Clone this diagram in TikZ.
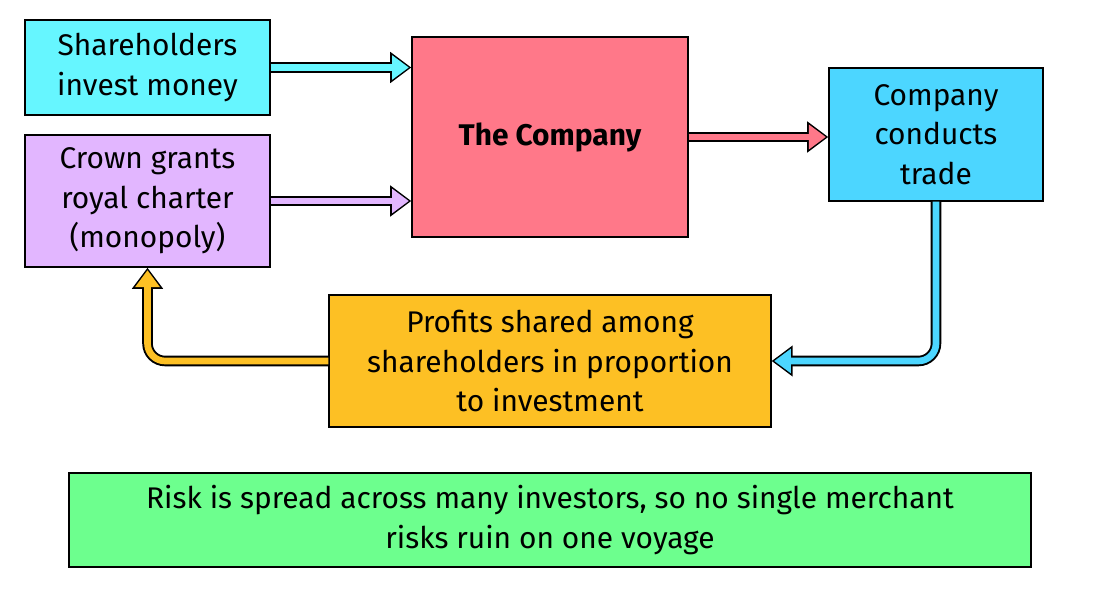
\documentclass[tikz,border=0pt]{standalone}
\usepackage{fontspec}
\setmainfont{Fira Sans}
\usetikzlibrary{arrows.meta,calc}
\definecolor{cshare}{HTML}{66F6FF}
\definecolor{ccrown}{HTML}{E2B6FF}
\definecolor{ccomp}{HTML}{FF7889}
\definecolor{ctrade}{HTML}{4CD6FF}
\definecolor{cprofit}{HTML}{FDC024}
\definecolor{crisk}{HTML}{6DFF8E}
\tikzset{
  box/.style={draw=black,line width=0.8pt,align=center,inner sep=0pt,
    font=\fontsize{17}{22.5}\selectfont},
  fatback/.style={line width=6pt,black,rounded corners=10pt,
    -{Triangle[length=12pt,width=17pt]}},
  fatfront/.style={line width=3.8pt,#1,rounded corners=10pt,
    -{Triangle[length=9.6pt,width=13.4pt]},shorten >=1.4pt},
}
\newcommand{\fatarrow}[2]{%
  \draw[fatback] #2;
  \draw[fatfront=#1] #2;}
\begin{document}
\begin{tikzpicture}[x=0.02cm,y=-0.02cm]
  \useasboundingbox (0,0) rectangle (1100,608);
  \node[box,fill=cshare,minimum width=245\pgflinewidth*0+4.9cm,minimum height=1.9cm]
    (share) at (147.5,67.5) {Shareholders\\invest money};
  \node[box,fill=ccrown,minimum width=4.9cm,minimum height=2.64cm]
    (crown) at (147.5,201) {Crown grants\\royal charter\\(monopoly)};
  \node[box,fill=ccomp,minimum width=5.52cm,minimum height=4cm,font=\fontsize{17}{22.5}\selectfont\bfseries]
    (comp) at (550,137) {The Company};
  \node[box,fill=ctrade,minimum width=4.28cm,minimum height=2.66cm]
    (trade) at (936,134.5) {Company\\conducts\\trade};
  \node[box,fill=cprofit,minimum width=8.84cm,minimum height=2.64cm]
    (profit) at (550,361) {Profits shared among\\shareholders in proportion\\to investment};
  \node[box,fill=crisk,minimum width=19.24cm,minimum height=1.88cm]
    (risk) at (550,520) {Risk is spread across many investors, so no single merchant\\risks ruin on one voyage};
  % connectors
  \fatarrow{cshare}{(share.east) -- (comp.west |- share.east)}
  \fatarrow{ccrown}{(crown.east) -- (comp.west |- crown.east)}
  \fatarrow{ccomp}{(comp.east) -- (trade.west |- comp.east)}
  \fatarrow{ctrade}{(trade.south) |- (profit.east)}
  \fatarrow{cprofit}{(profit.west) -| (crown.south)}
\end{tikzpicture}
\end{document}
